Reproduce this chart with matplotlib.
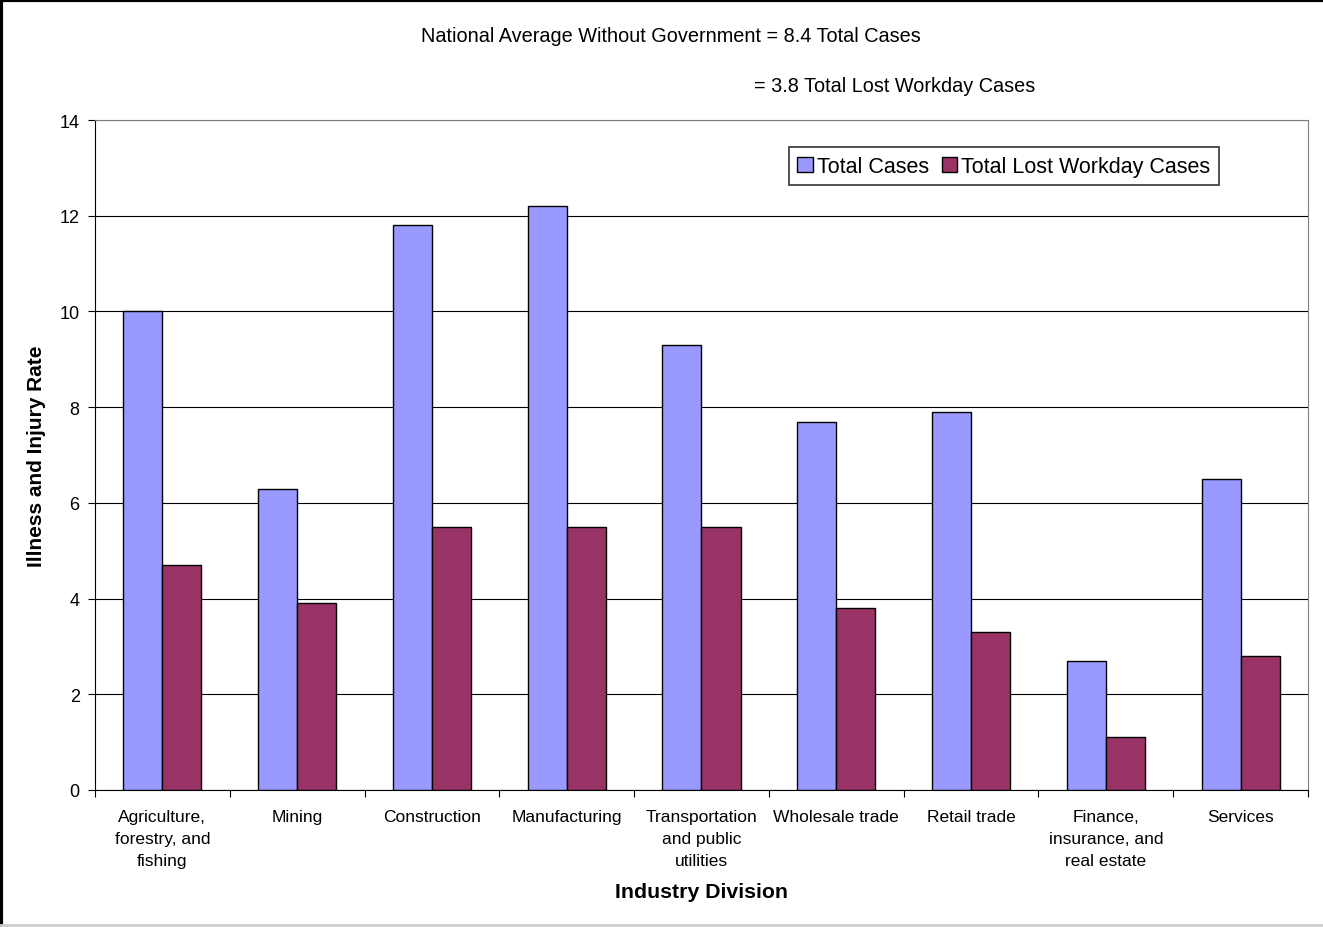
import matplotlib
matplotlib.use("Agg")
from matplotlib import pyplot as plt
from matplotlib.lines import Line2D
import numpy as np

plt.rcParams['font.family'] = ['Liberation Sans', 'DejaVu Sans']

categories = ["Agriculture,\nforestry, and\nfishing", "Mining", "Construction", "Manufacturing",
              "Transportation\nand public\nutilities", "Wholesale trade", "Retail trade",
              "Finance,\ninsurance, and\nreal estate", "Services"]
total_cases = [10.0, 6.3, 11.8, 12.2, 9.3, 7.7, 7.9, 2.7, 6.5]
lost_workday = [4.7, 3.9, 5.5, 5.5, 5.5, 3.8, 3.3, 1.1, 2.8]
yticks = [0, 2, 4, 6, 8, 10, 12, 14]

fig = plt.figure(figsize=(13.23, 9.28), dpi=100)
ax = fig.add_axes([95/1323, 137/928, 1213/1323, 670/928])

x = np.arange(len(categories))
w = 0.29
ax.bar(x - w/2, total_cases, w, color="#9999FF", edgecolor="black", linewidth=1, label="Total Cases", zorder=3)
ax.bar(x + w/2, lost_workday, w, color="#993366", edgecolor="black", linewidth=1, label="Total Lost Workday Cases", zorder=3)

ax.set_xlim(-0.5, len(categories) - 0.5)
ax.set_ylim(0, 14)
ax.set_yticks(yticks)
ax.yaxis.grid(True, color="black", linewidth=0.8, zorder=0)
ax.set_xticks(np.arange(len(categories) + 1) - 0.5)
ax.set_xticklabels([])
ax.set_xticks(x, minor=True)
ax.set_xticklabels(categories, minor=True, fontsize=12.5, linespacing=1.55)
ax.tick_params(axis="x", which="minor", length=0, pad=14)
ax.tick_params(axis="x", which="major", length=5, direction="out")
ax.tick_params(axis="y", length=5, direction="out", labelsize=13, pad=6)

for s in ["top", "right"]:
    ax.spines[s].set_color("#808080")
ax.spines["left"].set_color("black")
ax.spines["bottom"].set_color("black")

ax.set_xlabel("Industry Division", fontsize=15.3, fontweight="bold", labelpad=10)
ax.set_ylabel("Illness and Injury Rate", fontsize=15, fontweight="bold", labelpad=10)

leg = ax.legend(loc="upper right", bbox_to_anchor=(1124/1213, 1 - 27/670), ncol=2, fontsize=15.5,
                frameon=True, fancybox=False, edgecolor="black", handlelength=0.7, handleheight=0.7,
                handletextpad=0.2, columnspacing=0.6, borderpad=0.4, borderaxespad=0)
leg.get_frame().set_linewidth(1.2)

fig.text(671/1323, 1 - 37/928, "National Average Without Government = 8.4 Total Cases",
         ha="center", va="center", fontsize=14.3)
fig.text(895/1323, 1 - 86/928, "= 3.8 Total Lost Workday Cases",
         ha="center", va="center", fontsize=14.3)

fig.add_artist(Line2D([0.001, 0.001], [0, 1], transform=fig.transFigure, color="black", linewidth=3))
fig.add_artist(Line2D([0, 1], [0.999, 0.999], transform=fig.transFigure, color="black", linewidth=3))
fig.add_artist(Line2D([0, 1], [0.002, 0.002], transform=fig.transFigure, color="#cccccc", linewidth=2))

fig.savefig("out.png", dpi=100)
